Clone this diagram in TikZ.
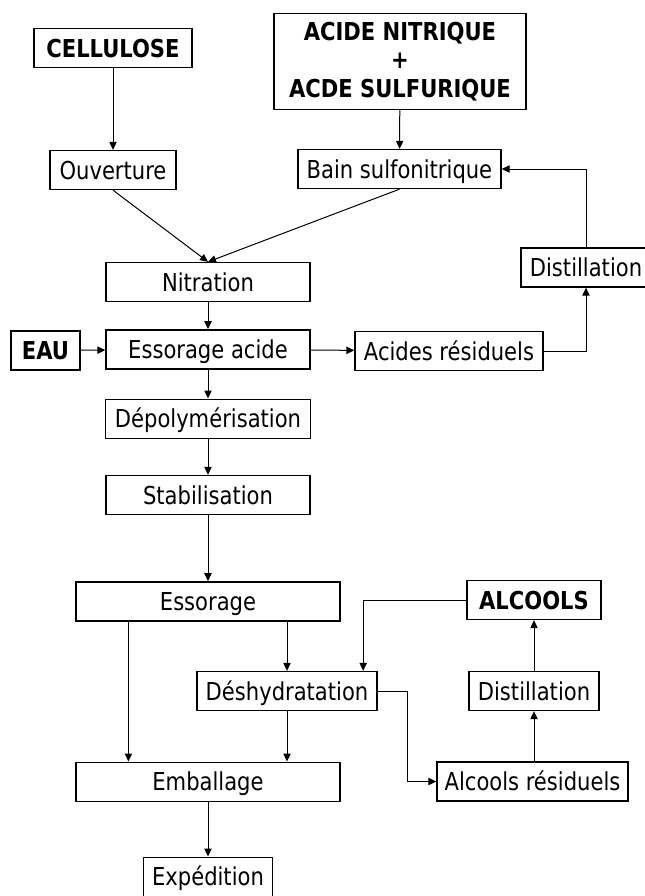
\documentclass[tikz,border=0pt]{standalone}
\usepackage{fontspec}
\setmainfont{DejaVu Sans Condensed}[FakeStretch=0.95]
\usepackage{tikz}
\usetikzlibrary{arrows.meta,positioning,calc}

\begin{document}
\begin{tikzpicture}[
    x=0.75pt, y=-0.75pt,
    node distance=20.25pt,
    base/.style={rectangle, draw, line width=1pt, minimum height=29.25pt, inner sep=0pt, font=\fontsize{18.5pt}{21.4pt}\selectfont, align=center},
    box/.style={base, text height=14.5pt, text depth=1pt},
    entree/.style={box, font=\fontsize{18.5pt}{21.4pt}\selectfont\bfseries},
    arrow/.style={-{Triangle[length=6pt,width=5.5pt]}, line width=0.75pt}
]
    \useasboundingbox (0,0) rectangle (645,896);

    % Raw materials (top)
    \node[entree, minimum width=118.5pt] (cellulose) at (113,48) {CELLULOSE};
    \node[base, font=\fontsize{18.5pt}{21.4pt}\selectfont\bfseries, minimum width=189pt, minimum height=72pt] (melange) at (400,61.5) {ACIDE NITRIQUE\\+\\ACDE SULFURIQUE};
    \node[box, minimum width=94.5pt] (ouverture) at (113,170) {Ouverture};
    \node[box, minimum width=152.25pt] (bain) at (399.5,169) {Bain sulfonitrique};

    % Main line (centre column)
    \node[box, minimum width=153pt] (nitration) at (208,282) {Nitration};
    \node[box, minimum width=153pt, below=of nitration] (essacide) {Essorage acide};
    \node[box, minimum width=154pt, below=21.75pt of essacide] (depoly) {Dépolymérisation};
    \node[box, minimum width=153pt, below=27pt of depoly] (stabil) {Stabilisation};
    \node[box, minimum width=198pt, below=49.5pt of stabil] (essorage) {Essorage};
    \node[box, minimum width=198pt, below=105pt of essorage] (emballage) {Emballage};
    \node[box, minimum width=96.75pt, below=41pt of emballage] (expedition) {Expédition};
    \node[box, minimum width=135pt] (deshydra) at (287,691) {Déshydratation};

    % Acid recycling loop
    \node[entree, minimum width=51.75pt] (eau) at (45.5,350.5) {EAU};
    \node[box, minimum width=141pt] (acidesres) at (449,351) {Acides résiduels};
    \node[box, minimum width=97.5pt] (distacide) at (586,267.5) {Distillation};

    % Alcohol recycling loop
    \node[entree, minimum width=100.5pt] (alcools) at (534,600) {ALCOOLS};
    \node[box, minimum width=97.5pt] (distalc) at (534,691) {Distillation};
    \node[box, minimum width=143.25pt] (alcoolsres) at (532.5,781.5) {Alcools résiduels};

    % Nitration
    \draw[arrow] (cellulose) -- (ouverture);
    \draw[arrow] (melange) -- (bain);
    \draw[arrow] (ouverture.south) -- (nitration.north);
    \draw[arrow] (bain.south) -- (nitration.north);
    \draw[arrow] (nitration) -- (essacide);
    \draw[arrow] (eau) -- (essacide);
    \draw[arrow] (essacide) -- (acidesres);
    \draw[arrow] (acidesres.east) -| (distacide.south);
    \draw[arrow] (distacide.north) |- (bain.east);

    % Stabilisation and finishing
    \draw[arrow] (essacide) -- (depoly);
    \draw[arrow] (depoly) -- (stabil);
    \draw[arrow] (stabil) -- (essorage);
    \draw[arrow] ($(essorage.south west)!0.2!(essorage.south east)$) coordinate (direct) -- (direct |- emballage.north);
    \draw[arrow] (essorage.south -| deshydra.north) -- (deshydra.north);
    \draw[arrow] (deshydra.south) -- (deshydra.south |- emballage.north);
    \draw[arrow] (emballage) -- (expedition);

    % Alcohol loop arrows
    \draw[arrow] (alcools.west) -| ($(deshydra.north west)!0.92!(deshydra.north east)$);
    \draw[arrow] (deshydra.east) -- ++(30,0) |- (alcoolsres.west);
    \draw[arrow] (distalc.south |- alcoolsres.north) -- (distalc.south);
    \draw[arrow] (distalc) -- (alcools);
\end{tikzpicture}
\end{document}
